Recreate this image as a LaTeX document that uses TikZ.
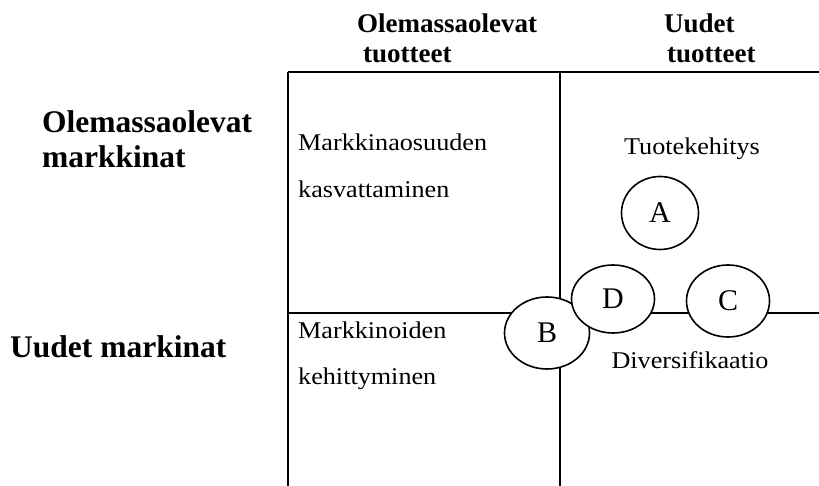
\documentclass[tikz,border=0pt]{standalone}
\usepackage{fontspec}
\setmainfont{Liberation Serif}
\newfontfamily\bodyfont{Liberation Serif}[FakeStretch=1.09]
\usetikzlibrary{shapes.geometric}
\begin{document}
\begin{tikzpicture}[x=1pt,y=-1pt,
  gridline/.style={line width=2pt},
  quad/.style={ellipse, draw, line width=1.6pt, fill=white, inner sep=0pt,
    font=\fontsize{30}{30}\selectfont},
  head/.style={anchor=base west, inner sep=0pt, font=\bfseries\fontsize{27}{27}\selectfont},
  side/.style={anchor=base west, inner sep=0pt, font=\bfseries\fontsize{31.5}{31.5}\selectfont},
  body/.style={anchor=base west, inner sep=0pt, font=\bodyfont\fontsize{24}{24}\selectfont},
  bodyc/.style={body, anchor=base},
]
\useasboundingbox (0,0) rectangle (819,486);

% grid coordinates
\coordinate (tl) at (288,72);
\coordinate (tr) at (819,72);
\coordinate (bl) at (288,486);
\coordinate (tm) at (560,72);
\coordinate (bm) at (560,486);
\coordinate (ml) at (288,313);
\coordinate (mr) at (819,313);

\draw[gridline] (tl) -- (tr);
\draw[gridline] (tl) -- (bl);
\draw[gridline] (tm) -- (bm);
\draw[gridline] (ml) -- (mr);

% headers
\node[head] (h1a) at (357,33) {Olemassaolevat};
\node[head] (h1b) at (363,63) {tuotteet};
\node[head] (h2a) at (664,33) {Uudet};
\node[head] (h2b) at (667,63) {tuotteet};

% side labels
\node[side] (s1a) at (42,133) {Olemassaolevat};
\node[side] (s1b) at (42,168) {markkinat};
\node[side] (s2) at (10,357) {Uudet markinat};

% quadrant texts
\node[body] (q1a) at (298,151) {Markkinaosuuden};
\node[body] (q1b) at (298,198) {kasvattaminen};
\node[body] (q3a) at (298,338) {Markkinoiden};
\node[body] (q3b) at (298,384) {kehittyminen};
\node[bodyc] (q2) at (692,155) {Tuotekehitys};
\node[bodyc] (q4) at (690,368) {Diversifikaatio};

% circles
\node[quad, minimum width=85pt, minimum height=72pt] (B) at (547,333) {B};
\node[quad, minimum width=83pt, minimum height=68pt] (D) at (613,299) {D};
\node[quad, minimum width=83pt, minimum height=72pt] (C) at (728,301) {C};
\node[quad, minimum width=77pt, minimum height=73pt] (A) at (660,213) {A};
\end{tikzpicture}
\end{document}
